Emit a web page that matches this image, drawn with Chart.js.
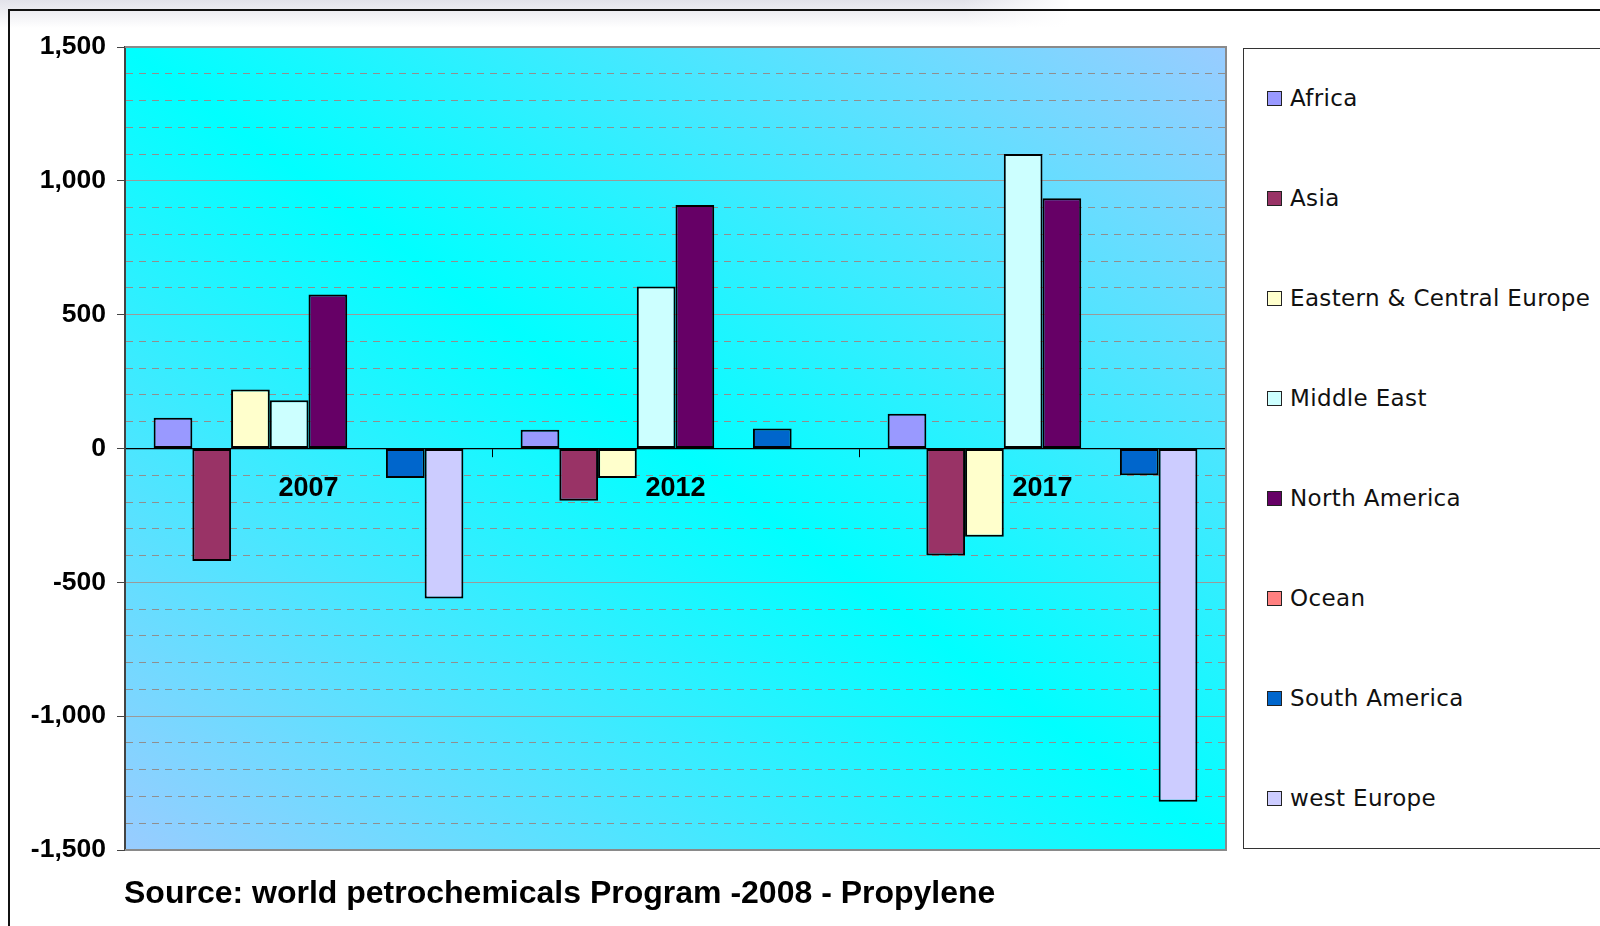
<!DOCTYPE html>
<html>
<head>
<meta charset="utf-8">
<script src="https://cdn.jsdelivr.net/npm/chart.js@4.4.0/dist/chart.umd.min.js"></script>
<style>
  html, body { margin: 0; padding: 0; background: #fff; width: 1600px; height: 926px; overflow: hidden; }
  #wrap { position: relative; width: 1600px; height: 926px; }
  #shade { position: absolute; left: 0; top: 0; width: 1070px; height: 28px;
    background: linear-gradient(to right, rgba(255,255,255,0) 90%, #fff 100%), linear-gradient(to bottom, #e2e2ea, #fff); }
  #frame { position: absolute; left: 8px; top: 9px; width: 1620px; height: 940px;
    border-left: 2px solid #111; border-top: 2px solid #111; }
  canvas { position: absolute; left: 0; top: 0; }
  #legend { position: absolute; left: 1243px; top: 48px; width: 420px; height: 799px;
    border: 1.5px solid #333; background: #fff; }
  .item { position: absolute; left: 23px; height: 30px; display: flex; align-items: center;
    font-family: "DejaVu Sans", sans-serif; font-size: 23px; color: #111; letter-spacing: 0.35px; }
  .swatch { width: 13px; height: 13px; border: 1.5px solid #222; margin-right: 8px; }
  #source { position: absolute; left: 124px; top: 874px; font-family: "Liberation Sans", Arial, sans-serif;
    font-weight: bold; font-size: 32px; color: #000; white-space: nowrap; }
</style>
</head>
<body>
<div id="wrap">
  <div id="shade"></div>
  <div id="frame"></div>
  <canvas id="chart" width="1600" height="926"></canvas>
  <div id="legend"></div>
  <div id="source">Source: world petrochemicals Program -2008 - Propylene</div>
</div>
<script>
const categories = ["2007", "2012", "2017"];
const seriesNames = ["Africa", "Asia", "Eastern & Central Europe", "Middle East",
  "North America", "Ocean", "South America", "west Europe"];

const africa = [115, 70, 130];
const asia = [-420, -195, -400];
const eastCentralEurope = [220, -110, -330];
const middleEast = [180, 605, 1100];
const northAmerica = [575, 910, 935];
const ocean = [0, 0, 0];
const southAmerica = [-110, 75, -100];
const westEurope = [-560, 0, -1320];

const yTicks = [-1500, -1000, -500, 0, 500, 1000, 1500];

const seriesValues = [africa, asia, eastCentralEurope, middleEast, northAmerica, ocean, southAmerica, westEurope];
const seriesColors = ["#9999ff", "#993366", "#ffffcc", "#ccffff", "#660066", "#ff8080", "#0066cc", "#ccccff"];

const isMajor = (v) => yTicks.includes(v);

// cyan band running corner to corner, light blue in the other two corners
const plotBackground = {
  id: "plotBackground",
  beforeDraw(chart) {
    const { ctx, chartArea: a } = chart;
    const w = a.right - a.left, h = a.bottom - a.top;
    const cx = a.left + w / 2, cy = a.top + h / 2;
    const len = Math.hypot(w, h);
    const nx = h / len, ny = -w / len;
    const t = (w * h) / len;
    const g = ctx.createLinearGradient(cx - t * nx, cy - t * ny, cx + t * nx, cy + t * ny);
    g.addColorStop(0, "#99ccff");
    g.addColorStop(0.5, "#00ffff");
    g.addColorStop(1, "#99ccff");
    ctx.save();
    ctx.fillStyle = g;
    ctx.fillRect(a.left, a.top, w, h);
    ctx.restore();
  },
  beforeDatasetsDraw(chart) {
    const { ctx, chartArea: a } = chart;
    ctx.save();
    ctx.strokeStyle = "#8a8a8a";
    ctx.lineWidth = 2;
    ctx.beginPath();
    ctx.moveTo(a.left, a.top);
    ctx.lineTo(a.right, a.top);
    ctx.lineTo(a.right, a.bottom);
    ctx.lineTo(a.left, a.bottom);
    ctx.stroke();
    ctx.restore();
  }
};

new Chart(document.getElementById("chart"), {
  type: "bar",
  data: {
    labels: categories,
    datasets: seriesNames.map((name, i) => ({
      label: name,
      data: seriesValues[i],
      backgroundColor: seriesColors[i],
      borderColor: "#000",
      borderWidth: 2,
      borderSkipped: false,
    })),
  },
  options: {
    responsive: false,
    devicePixelRatio: 1,
    animation: false,
    categoryPercentage: 0.844,
    barPercentage: 1,
    layout: { padding: { left: 0, top: 47, right: 374, bottom: 76 } },
    plugins: {
      legend: { display: false },
      tooltip: { enabled: false },
    },
    scales: {
      x: {
        position: { y: 0 },
        grid: { offset: true, drawOnChartArea: false, tickLength: 8, tickColor: "#000", tickWidth: 1 },
        border: { color: "#000", width: 1.2 },
        ticks: {
          color: "#000",
          padding: 16,
          font: { family: "'Liberation Sans', Arial, sans-serif", size: 27, weight: "bold" },
        },
      },
      y: {
        min: -1500,
        max: 1500,
        afterFit: (scale) => { scale.width = 125; },
        grid: {
          color: (c) => (c.tick && isMajor(c.tick.value) ? "#9a9a9a" : "#8f8f8f"),
          lineWidth: 1,
          tickLength: 8,
          tickColor: (c) => (c.tick && isMajor(c.tick.value) ? "#444" : "rgba(0,0,0,0)"),
        },
        border: {
          color: "#444",
          width: 2,
          dash: (c) => (c.tick && !isMajor(c.tick.value) ? [7, 6] : []),
        },
        ticks: {
          stepSize: 100,
          autoSkip: false,
          padding: 11,
          color: "#000",
          font: { family: "'Liberation Sans', Arial, sans-serif", size: 26.5, weight: "bold" },
          callback: (v) => (isMajor(v) ? v.toLocaleString("en-US") : ""),
        },
      },
    },
  },
  plugins: [plotBackground],
});

const legend = document.getElementById("legend");
seriesNames.forEach((name, i) => {
  const item = document.createElement("div");
  item.className = "item";
  item.style.top = (97 - 48 - 15 + i * 100) + "px";
  const sw = document.createElement("span");
  sw.className = "swatch";
  sw.style.background = seriesColors[i];
  item.appendChild(sw);
  item.appendChild(document.createTextNode(name));
  legend.appendChild(item);
});
</script>
</body>
</html>
